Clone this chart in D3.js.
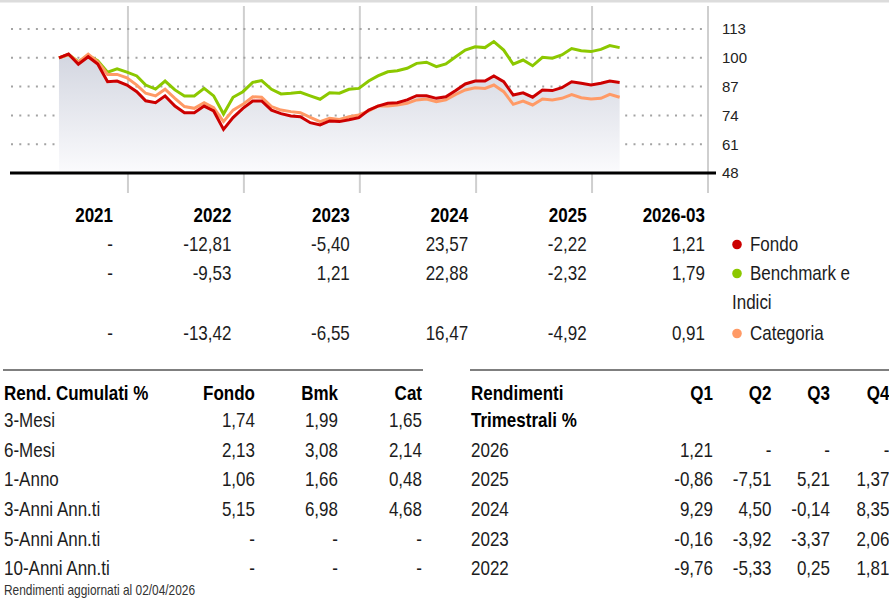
<!DOCTYPE html>
<html>
<head>
<meta charset="utf-8">
<title>Rendimenti</title>
<style>
body { margin: 0; background: #fff; }
svg { display: block; }
.cond { font-family: "Liberation Sans", Arial, sans-serif; font-size: 20px; fill: #1c1c1c; }
.bold { font-weight: bold; fill: #000; }
.ylab { font-family: "Liberation Sans", Arial, sans-serif; font-size: 15px; fill: #222; }
.foot { font-size: 14px; fill: #333; }
</style>
</head>
<body>
<div id="chart"></div>
<script src="https://d3js.org/d3.v7.min.js"></script>
<script>

// month-end points, May 2021 -> Mar 2026
const months = [
  "2021-05","2021-06","2021-07","2021-08","2021-09","2021-10","2021-11","2021-12",
  "2022-01","2022-02","2022-03","2022-04","2022-05","2022-06","2022-07","2022-08","2022-09","2022-10","2022-11","2022-12",
  "2023-01","2023-02","2023-03","2023-04","2023-05","2023-06","2023-07","2023-08","2023-09","2023-10","2023-11","2023-12",
  "2024-01","2024-02","2024-03","2024-04","2024-05","2024-06","2024-07","2024-08","2024-09","2024-10","2024-11","2024-12",
  "2025-01","2025-02","2025-03","2025-04","2025-05","2025-06","2025-07","2025-08","2025-09","2025-10","2025-11","2025-12",
  "2026-01","2026-02","2026-03"
]
const fondo = [
  100, 101.7, 97.1, 100.5, 97.2, 89.2, 89.5, 87.7,
  84.7, 80.6, 79.7, 82.8, 78.2, 75.2, 75.2, 78.2, 76, 67.7, 73, 77.2,
  80.5, 80.5, 76.4, 74.8, 73.7, 73.4, 70.7, 69.7, 71.5, 71.2, 72, 73,
  76.4, 78.2, 79.5, 79.7, 81, 82.9, 82.9, 81.7, 82.4, 85.2, 88.2, 89.5,
  89.5, 91.8, 89.2, 83.2, 84.2, 82.2, 85.5, 85.2, 86.5, 89.2, 88.5, 87.7,
  88.5, 89.5, 88.9
]
const benchmark = [
  100, 101.5, 98.2, 101, 98.7, 93.5, 95, 93.5,
  91.8, 87.7, 85.9, 89.5, 85.5, 82.8, 82.8, 86.2, 82.8, 74.6, 82.2, 84.7,
  88.9, 89.7, 85.8, 83.7, 84, 84.4, 82.8, 81.3, 84.2, 84, 85.8, 86.2,
  89.5, 91.8, 93.7, 94.2, 95.3, 97.5, 98, 96, 97.2, 100.5, 103.5, 105,
  104.6, 107.3, 103.5, 97.1, 99, 96.4, 100.2, 99.8, 101.3, 104.2, 103.2, 102.8,
  103.8, 105.5, 104.6
]
const categoria = [
  100, 101.5, 98, 101.6, 98.2, 92.5, 92.5, 91,
  87.7, 84, 82.8, 85.8, 81.7, 78, 77.2, 79.7, 77.5, 71.2, 76.4, 79,
  82.4, 82.2, 78, 76.4, 75.7, 75.2, 73.1, 71.2, 72.7, 72.2, 73.4, 74.2,
  76, 78.2, 78.2, 78.7, 79.5, 81, 81.4, 80.2, 81, 83.5, 85.5, 86.5,
  86.2, 87.7, 84.7, 79, 80.5, 78.7, 81.4, 81, 81.7, 83.4, 82, 81.4,
  81.7, 83.5, 82.2
]
const yTicks = [48, 61, 74, 87, 100, 113]

// annual returns under the chart
const years = ["2021", "2022", "2023", "2024", "2025", "2026-03"]
const annFondo = ["-", "-12,81", "-5,40", "23,57", "-2,22", "1,21"]
const annBmk = ["-", "-9,53", "1,21", "22,88", "-2,32", "1,79"]
const annCat = ["-", "-13,42", "-6,55", "16,47", "-4,92", "0,91"]

// cumulative returns
const cumHeader = ["Rend. Cumulati %", "Fondo", "Bmk", "Cat"]
const cumLabels = ["3-Mesi", "6-Mesi", "1-Anno", "3-Anni Ann.ti", "5-Anni Ann.ti", "10-Anni Ann.ti"]
const cumFondo = ["1,74", "2,13", "1,06", "5,15", "-", "-"]
const cumBmk = ["1,99", "3,08", "1,66", "6,98", "-", "-"]
const cumCat = ["1,65", "2,14", "0,48", "4,68", "-", "-"]

// quarterly returns
const quarters = ["Q1", "Q2", "Q3", "Q4"]
const qYears = ["2026", "2025", "2024", "2023", "2022"]
const q2026 = ["1,21", "-", "-", "-"]
const q2025 = ["-0,86", "-7,51", "5,21", "1,37"]
const q2024 = ["9,29", "4,50", "-0,14", "8,35"]
const q2023 = ["-0,16", "-3,92", "-3,37", "2,06"]
const q2022 = ["-9,76", "-5,33", "0,25", "1,81"]

const colors = {fondo: "#cc0000", bmk: "#8cc800", cat: "#ff9a66"}

const W = 889, H = 598
const svg = d3.select("#chart").append("svg")
    .attr("width", W)
    .attr("height", H)

const parse = d3.timeParse("%Y-%m")
const dates = months.map(m => d3.timeMonth.offset(parse(m), 1))
const series = arr => arr.map((v, i) => ({date: dates[i], v}))

const x = d3.scaleTime()
    .domain([new Date(2021, 0, 1), new Date(2027, 0, 1)])
    .range([11, 707])
const y = d3.scaleLinear()
    .domain([48, 113])
    .range([173, 29])

// thin grey band on top
svg.append("rect")
    .attr("x", 0).attr("y", 0)
    .attr("width", W).attr("height", 2.5)
    .attr("fill", "#dcdcdc")

// gradient for the fund area
const grad = svg.append("defs").append("linearGradient")
    .attr("id", "fillGrad")
    .attr("gradientUnits", "userSpaceOnUse")
    .attr("x1", 0).attr("y1", y(100))
    .attr("x2", 0).attr("y2", y(48))
grad.append("stop").attr("offset", 0).attr("stop-color", "#d4d7e1")
grad.append("stop").attr("offset", 1).attr("stop-color", "#fbfbfd")

// year separators
svg.selectAll(".vline")
    .data(d3.timeYear.range(new Date(2022, 0, 1), new Date(2027, 0, 2)))
    .enter()
    .append("line")
    .attr("x1", d => x(d) + 1).attr("x2", d => x(d) + 1)
    .attr("y1", 6).attr("y2", 193)
    .attr("stroke", "#cfcfcf")
    .attr("stroke-width", 2)

// dotted horizontal grid
svg.selectAll(".hgrid")
    .data(yTicks.slice(1))
    .enter()
    .append("line")
    .attr("x1", 11).attr("x2", 705)
    .attr("y1", d => y(d)).attr("y2", d => y(d))
    .attr("stroke", "#a3a3a3")
    .attr("stroke-width", 2)
    .attr("stroke-dasharray", "2,6.3")

// area under the fund
const area = d3.area()
    .x(d => x(d.date))
    .y0(y(48))
    .y1(d => y(d.v))
svg.append("path")
    .datum(series(fondo))
    .attr("d", area)
    .attr("fill", "url(#fillGrad)")

// baseline
svg.append("line")
    .attr("x1", 10).attr("x2", 716)
    .attr("y1", y(48)).attr("y2", y(48))
    .attr("stroke", "#000")
    .attr("stroke-width", 3)

// y labels on the right
svg.selectAll(".ylab")
    .data(yTicks)
    .enter()
    .append("text")
    .attr("class", "ylab")
    .attr("x", 722)
    .attr("y", d => y(d))
    .attr("dy", "0.36em")
    .text(d => d)

// lines
const line = d3.line()
    .x(d => x(d.date))
    .y(d => y(d.v))
;[[benchmark, colors.bmk], [categoria, colors.cat], [fondo, colors.fondo]].forEach(([arr, c]) => {
    svg.append("path")
        .datum(series(arr))
        .attr("d", line)
        .attr("fill", "none")
        .attr("stroke", c)
        .attr("stroke-width", 3)
})

// narrow text: no condensed face installed, so squeeze Liberation Sans horizontally
const SX = 0.85
const txt = (sel, cls, xx, yy, t, anchor) => sel.append("text")
    .attr("class", cls)
    .attr("transform", "scale(" + SX + ",1)")
    .attr("x", xx / SX).attr("y", yy)
    .attr("text-anchor", anchor || "start")
    .text(t)

// annual returns table
const colRight = i => 113 + i * 118.4
years.forEach((yr, i) => txt(svg, "cond bold", colRight(i), 222, yr, "end"))
;[[annFondo, 251], [annBmk, 280], [annCat, 340]].forEach(([row, yy]) => {
    row.forEach((v, i) => txt(svg, "cond", colRight(i), yy, v, "end"))
})

// legend
const legend = [["Fondo", colors.fondo, 251], ["Benchmark e", colors.bmk, 280], ["Categoria", colors.cat, 340]]
legend.forEach(([name, c, yy]) => {
    svg.append("circle").attr("cx", 737).attr("cy", yy - 6.5).attr("r", 4.8).attr("fill", c)
    txt(svg, "cond", 750, yy, name)
})
txt(svg, "cond", 732, 309, "Indici")

// cumulative returns table
const rowY = i => 427 + i * 29.7
svg.append("line")
    .attr("x1", 3).attr("x2", 423)
    .attr("y1", 370).attr("y2", 370)
    .attr("stroke", "#555").attr("stroke-width", 1.5)
const cumCols = [255, 338, 422]
txt(svg, "cond bold", 4, 400, cumHeader[0])
cumHeader.slice(1).forEach((h, i) => txt(svg, "cond bold", cumCols[i], 400, h, "end"))
cumLabels.forEach((lab, r) => {
    txt(svg, "cond", 4, rowY(r), lab)
    ;[cumFondo, cumBmk, cumCat].forEach((col, i) => txt(svg, "cond", cumCols[i], rowY(r), col[r], "end"))
})
txt(svg, "cond foot", 4, 595, "Rendimenti aggiornati al 02/04/2026")

// quarterly returns table
svg.append("line")
    .attr("x1", 470).attr("x2", W)
    .attr("y1", 370).attr("y2", 370)
    .attr("stroke", "#555").attr("stroke-width", 1.5)
const qCols = [713, 771.5, 830, 889.5]
txt(svg, "cond bold", 471, 400, "Rendimenti")
txt(svg, "cond bold", 471, rowY(0), "Trimestrali %")
quarters.forEach((q, i) => txt(svg, "cond bold", qCols[i], 400, q, "end"))
;[q2026, q2025, q2024, q2023, q2022].forEach((row, r) => {
    txt(svg, "cond", 471, rowY(r + 1), qYears[r])
    row.forEach((v, i) => txt(svg, "cond", qCols[i], rowY(r + 1), v, "end"))
})
</script>
</body>
</html>
